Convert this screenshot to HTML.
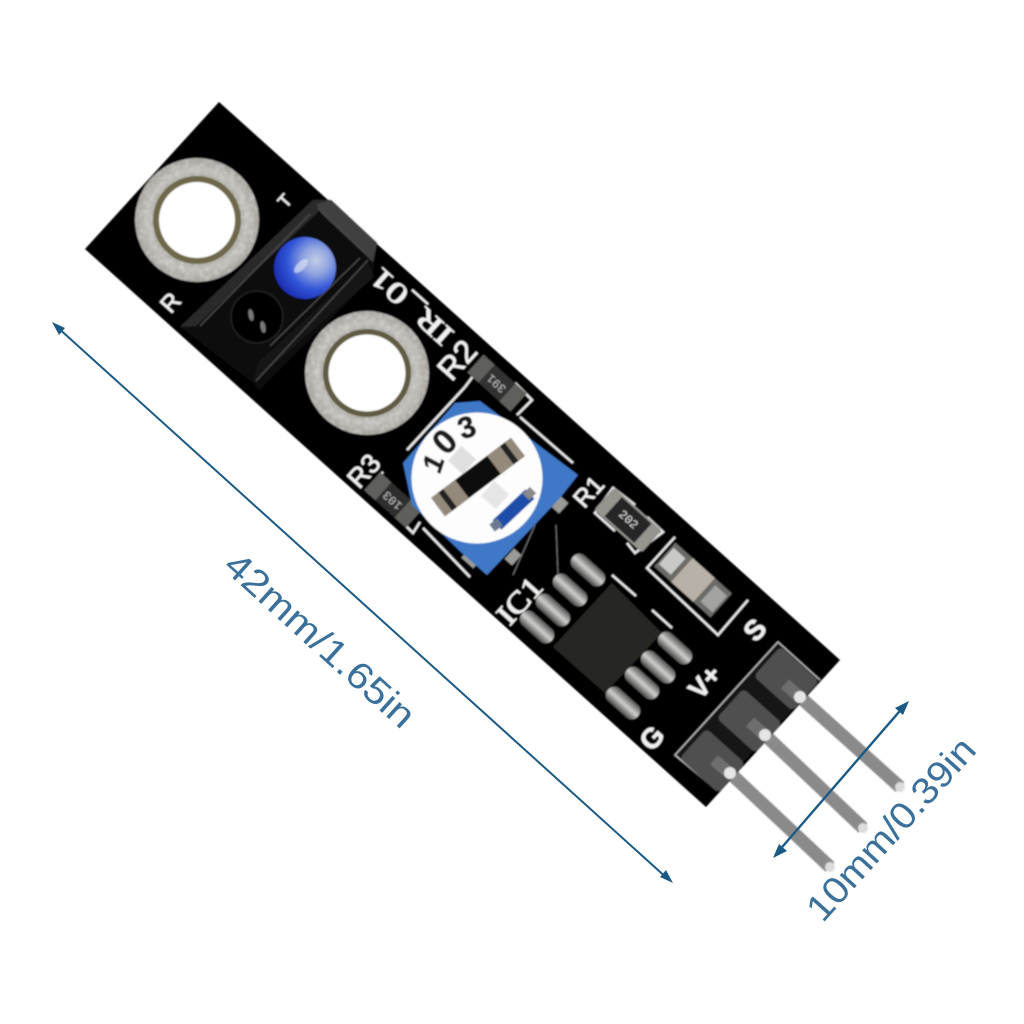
<!DOCTYPE html>
<html><head><meta charset="utf-8">
<style>
html,body{margin:0;padding:0;background:#fff}
svg{display:block}
.l{font-family:"Liberation Sans",sans-serif;fill:#f0f0f0;stroke:#f0f0f0;stroke-width:.5;text-anchor:middle;dominant-baseline:central}
.s{font-family:"Liberation Serif",serif;fill:#f0f0f0;stroke:#f0f0f0;stroke-width:.8;text-anchor:middle;dominant-baseline:central}
.d{font-family:"Liberation Sans",sans-serif;fill:#3a7099;text-anchor:middle;dominant-baseline:central}
.m{font-family:"Liberation Mono",monospace;text-anchor:middle;dominant-baseline:central}
.p{font-family:"Liberation Sans",sans-serif;font-weight:bold;fill:#1c1c1c;stroke:#1c1c1c;stroke-width:.8;text-anchor:middle;dominant-baseline:central}
</style></head><body>
<svg xmlns="http://www.w3.org/2000/svg" width="1024" height="1024" viewBox="0 0 1024 1024">
<defs>
<radialGradient id="wash"><stop offset="0.6" stop-color="#989590"/><stop offset="0.8" stop-color="#c2bfba"/><stop offset="1" stop-color="#a6a39f"/></radialGradient>
<radialGradient id="led" cx="0.68" cy="0.38" r="0.75"><stop offset="0" stop-color="#c3cde8"/><stop offset="0.3" stop-color="#8ea2e0"/><stop offset="0.62" stop-color="#3155d8"/><stop offset="1" stop-color="#1626a8"/></radialGradient>
<linearGradient id="sil" x1="0" y1="0" x2="0" y2="1"><stop offset="0" stop-color="#555"/><stop offset="0.5" stop-color="#cfcfcc"/><stop offset="1" stop-color="#4a4a4a"/></linearGradient>
<filter id="b" x="-5%" y="-5%" width="110%" height="110%"><feGaussianBlur stdDeviation="0.8"/></filter>
<filter id="spk" x="-5%" y="-5%" width="110%" height="110%">
<feTurbulence type="fractalNoise" baseFrequency="0.2" numOctaves="2" seed="4" result="n"/>
<feColorMatrix in="n" type="matrix" values="0 0 0 0 .8  0 0 0 0 .8  0 0 0 0 .78  1 0 0 0 -.42" result="c"/>
<feComposite in="c" in2="SourceAlpha" operator="in" result="t"/>
<feMerge><feMergeNode in="SourceGraphic"/><feMergeNode in="t"/></feMerge>
</filter>
</defs>

<g filter="url(#b)">
<!-- pins -->
<path d="M800 697L900 787M765 735L863 828M730 773L830 867" stroke="#8a8a8a" stroke-width="13"/>
<g fill="#dcdcdc"><circle cx="900" cy="787" r="5"/><circle cx="863" cy="828" r="5"/><circle cx="830" cy="867" r="5"/></g>

<!-- board -->
<polygon points="219,102 840,660 706,807 85,249" fill="#020202"/>

<!-- washers -->
<circle cx="197" cy="220" r="62" fill="url(#wash)" filter="url(#spk)"/>
<circle cx="197" cy="220" r="44" fill="#6d6848"/>
<circle cx="197" cy="220" r="38" fill="#fff"/>
<circle cx="367" cy="373" r="62" fill="url(#wash)" filter="url(#spk)"/>
<circle cx="367" cy="373" r="44" fill="#5f5b42"/>
<circle cx="367" cy="373" r="38.5" fill="#fff"/>

<!-- IR block -->
<polygon points="313,200 331,200 377,243 373,277 259,391 253,383 180,327" fill="#080808"/>
<polygon points="313,200 331,200 377,243 373,262 320,210 196,326 180,327" fill="#2c2c2c"/>
<polygon points="331,200 377,243 373,262 322,214 316,204" fill="#3f3f3f"/>
<polygon points="258,362 368,262 374,277 253,383" fill="#121212"/>
<path d="M200 326L310 214M256 381L368 260M270 346L360 258M318 208L365 252" stroke="#4a4a4a" stroke-width="1.3" fill="none"/>
<circle cx="257" cy="317" r="26" fill="#050505" stroke="#1f1f1f" stroke-width="2"/>
<ellipse cx="251" cy="315" rx="2.5" ry="6" fill="#777" transform="rotate(-10 251 315)"/>
<ellipse cx="263" cy="327" rx="2.5" ry="6" fill="#777" transform="rotate(-10 263 327)"/>
<circle cx="305" cy="268" r="31" fill="url(#led)"/>
<ellipse cx="301" cy="266" rx="4" ry="9" fill="#d8e0f4" opacity=".7" transform="rotate(45 301 266)"/>

<!-- silkscreen outlines -->
<g fill="none" stroke="#e8e8e8" stroke-width="2.4">
<path d="M465 387L485 360L503 375M515 383L532 400L517 415"/>
<path d="M465 387L407 450"/><path d="M520 417L573 463"/>
<path d="M383 472L367 490L385 507M400 520L413 533L420 522"/>
<path d="M423 528L470 577"/>
<path d="M635 505L613 488L595 513L615 531M627 543L635 553L663 532L647 517"/>
<path d="M675 537L647 568L718 635L748 600"/>
<path d="M612 575L636 596M652 610L672 628"/>
<path d="M535 525L513 575M556 525L558 575" stroke-width="1" stroke="#777"/>
</g>

<!-- resistors -->
<g transform="translate(497 383) rotate(42)">
<rect x="-29" y="-12" width="58" height="24" fill="#333331"/><rect x="-29" y="-12" width="15" height="24" fill="#5f5f5c"/><rect x="14" y="-12" width="15" height="24" fill="#5f5f5c"/>
<text class="m" font-size="12" fill="#bbb" transform="rotate(180)">391</text></g>
<g transform="translate(393 500) rotate(42)">
<rect x="-28" y="-12" width="56" height="24" fill="#2e2e2e"/><rect x="-28" y="-12" width="15" height="24" fill="#5e5e5c"/><rect x="13" y="-12" width="15" height="24" fill="#5e5e5c"/>
<text class="m" font-size="12" fill="#bbb" transform="rotate(180)">103</text></g>
<g transform="translate(628 520) rotate(42)">
<rect x="-32" y="-15" width="64" height="30" rx="3" fill="#96948f"/><rect x="-20" y="-13" width="40" height="26" fill="#272727"/>
<text class="m" font-size="12" fill="#ddd">202</text></g>
<g transform="translate(693 580) rotate(42)">
<rect x="-38" y="-16" width="76" height="32" fill="#6a6a66"/><rect x="-15" y="-16" width="30" height="32" fill="#b8b1a8"/><rect x="-36" y="-11" width="16" height="22" fill="#c9c9c6"/><rect x="20" y="-11" width="16" height="22" fill="#a3a3a0"/></g>

<!-- potentiometer -->
<g fill="#9a9a96"><rect x="553" y="500" width="14" height="10" transform="rotate(-48 560 505)"/><rect x="506" y="552" width="14" height="10" transform="rotate(-48 513 557)"/><rect x="462" y="556" width="16" height="8" transform="rotate(42 470 560)"/></g>
<polygon points="455,403 480,401 578,475 560,498 487,575 462,553 412,505 403,463" fill="#3f78c8"/>
<circle cx="477" cy="478" r="65.5" fill="#fdfdfd"/>
<rect x="452" y="450" width="20" height="20" fill="#e0e0e0" transform="rotate(42 462 460)"/>
<rect x="485" y="485" width="20" height="20" fill="#e6e6e6" transform="rotate(42 495 495)"/>
<g transform="translate(478 477) rotate(-37)">
<rect x="-50" y="-11.5" width="100" height="23" fill="#0a0a0a"/>
<rect x="-50" y="-11.5" width="30" height="23" fill="#948a7c"/><rect x="-41" y="-11.5" width="6" height="23" fill="#222"/>
<rect x="20" y="-11.5" width="30" height="23" fill="#948a7c"/><rect x="36" y="-11.5" width="6" height="23" fill="#222"/>
</g>
<path d="M497 525L530 494" stroke="#1f4ea8" stroke-width="13"/>
<path d="M492 528L500 522" stroke="#6a7a90" stroke-width="9"/>
<path d="M526 497L533 490" stroke="#8a8a8a" stroke-width="9"/>
<text class="p" font-size="28" transform="translate(433 463) rotate(-72) skewX(-10)">1</text>
<text class="p" font-size="34" transform="translate(445 442) rotate(-45)">0</text>
<text class="p" font-size="30" transform="translate(467 428) rotate(-20)">3</text>

<!-- IC -->
<g>
<rect x="-20" y="-8.5" width="40" height="17" rx="8" fill="url(#sil)" transform="translate(588 570) rotate(42)"/>
<rect x="-20" y="-8.5" width="40" height="17" rx="8" fill="url(#sil)" transform="translate(570 590) rotate(42)"/>
<rect x="-20" y="-8.5" width="40" height="17" rx="8" fill="url(#sil)" transform="translate(553 610) rotate(42)"/>
<rect x="-20" y="-8.5" width="40" height="17" rx="8" fill="url(#sil)" transform="translate(537 627) rotate(42)"/>
<rect x="-20" y="-8.5" width="40" height="17" rx="8" fill="url(#sil)" transform="translate(675 648) rotate(42)"/>
<rect x="-20" y="-8.5" width="40" height="17" rx="8" fill="url(#sil)" transform="translate(658 667) rotate(42)"/>
<rect x="-20" y="-8.5" width="40" height="17" rx="8" fill="url(#sil)" transform="translate(642 683) rotate(42)"/>
<rect x="-20" y="-8.5" width="40" height="17" rx="8" fill="url(#sil)" transform="translate(623 703) rotate(42)"/>
</g>
<polygon points="612,583 662,633 605,693 553,647" fill="#272724"/>

<!-- header -->
<polygon points="778,642 675,755 717,790 820,680" fill="#151515"/>
<path d="M717 790L675 755L778 642L820 680" fill="none" stroke="#b8b8b8" stroke-width="1.5"/>
<g fill="#505050">
<rect x="-26" y="-19" width="52" height="40" rx="5" transform="translate(787 678) rotate(42)"/>
<rect x="-26" y="-19" width="52" height="40" rx="5" transform="translate(750 720) rotate(42)"/>
<rect x="-26" y="-19" width="52" height="40" rx="5" transform="translate(713 760) rotate(42)"/>
</g>
<path d="M785 684L802 699M750 722L767 737M714 760L732 775" stroke="#6e6e6e" stroke-width="12"/>
<g fill="#e5e5e5"><circle cx="800" cy="697" r="6"/><circle cx="765" cy="735" r="6"/><circle cx="730" cy="773" r="6"/></g>

<!-- silkscreen text -->
<text class="l" font-size="24" transform="translate(171 303) rotate(-48)">R</text>
<text class="l" font-size="18" transform="translate(285 201) rotate(-48)">T</text>
<text class="s" font-size="29" transform="translate(412 306) rotate(222)" textLength="100" lengthAdjust="spacingAndGlyphs">IR_01</text>
<text class="l" font-size="32" transform="translate(457 360) rotate(-48)">R2</text>
<text class="l" font-size="27" transform="translate(364 471) rotate(-48)">R3</text>
<text class="l" font-size="25" transform="translate(589 492) rotate(-48)">R1</text>
<text class="s" font-size="30" transform="translate(520 601) rotate(-48)" textLength="52" lengthAdjust="spacingAndGlyphs">IC1</text>
<text class="l" font-size="28" font-weight="bold" transform="translate(755 630) rotate(-48)">S</text>
<text class="l" font-size="27" font-weight="bold" transform="translate(705 682) rotate(-48)">V+</text>
<text class="l" font-size="28" font-weight="bold" transform="translate(652 738) rotate(-48)">G</text>
</g>

<!-- dimension lines -->
<line x1="56" y1="326" x2="669" y2="880" stroke="#1c5a86" stroke-width="2"/>
<polygon points="52,322 65,328 59,335" fill="#1c5a86"/>
<polygon points="673,883 660,877 666,870" fill="#1c5a86"/>
<line x1="777" y1="853" x2="905" y2="705" stroke="#1c5a86" stroke-width="2.4"/>
<polygon points="773,858 779,844 787,851" fill="#1c5a86"/>
<polygon points="909,701 903,715 895,708" fill="#1c5a86"/>

<text class="d" font-size="37" transform="translate(320 640) rotate(42)" textLength="242" lengthAdjust="spacingAndGlyphs">42mm/1.65in</text>
<text class="d" font-size="37" transform="translate(891 829) rotate(-48)" textLength="232" lengthAdjust="spacingAndGlyphs">10mm/0.39in</text>
</svg>
</body></html>
